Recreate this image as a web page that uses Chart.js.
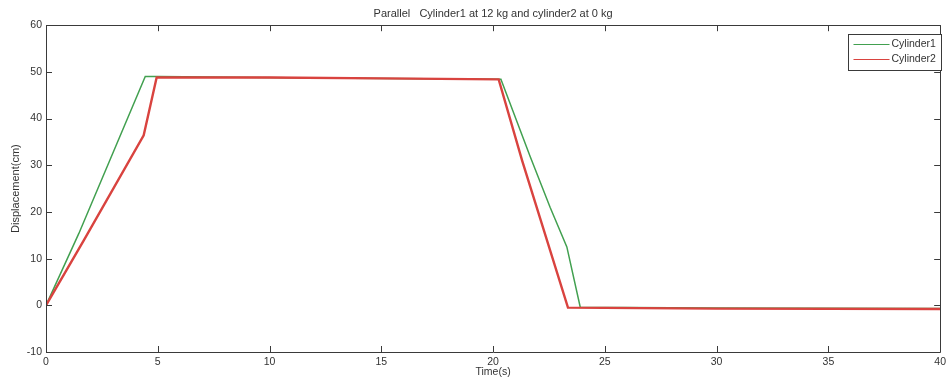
<!DOCTYPE html>
<html>
<head>
<meta charset="utf-8">
<script src="https://cdn.jsdelivr.net/npm/chart.js@4.4.1/dist/chart.umd.min.js"></script>
<style>
  html, body { margin: 0; padding: 0; background: #fff; }
</style>
</head>
<body>
<canvas id="chart" width="950" height="384"></canvas>
<script>
// values: time (s) and displacement (cm)
const cyl1Time = [0, 1.47, 4.44, 5.0, 12, 20.35, 21.65, 22.55, 23.3, 23.9, 30, 40];
const cyl1Disp = [0, 15.4, 49.0, 49.0, 48.7, 48.4, 32.0, 21.0, 12.5, -0.4, -0.6, -0.7];

const cyl2Time = [0, 1.69, 4.37, 4.95, 10, 15, 20.25, 21.3, 23.35, 30, 40];
const cyl2Disp = [0, 13.9, 36.4, 48.8, 48.8, 48.6, 48.4, 31.0, -0.5, -0.7, -0.8];

const seriesNames = ['Cylinder1', 'Cylinder2'];
const seriesColors = ['#42a050', '#d9433f'];

const xTicks = [0, 5, 10, 15, 20, 25, 30, 35, 40];
const yTicks = [-10, 0, 10, 20, 30, 40, 50, 60];

const chartTitle = 'Parallel   Cylinder1 at 12 kg and cylinder2 at 0 kg';

const axisColor = '#3a3a3a';
const textColor = '#333';
const fontFamily = '"Liberation Sans", Arial, sans-serif';

function toPoints(times, values) {
  return times.map(function(t, i) { return { x: t, y: values[i] }; });
}

// box round the plot, inward ticks on all four sides, and the legend box
const matlabAxes = {
  id: 'matlabAxes',
  afterDraw(chart) {
    const ctx = chart.ctx;
    const area = chart.chartArea;
    const xs = chart.scales.x;
    const ys = chart.scales.y;
    const tl = 6;
    ctx.save();
    ctx.strokeStyle = axisColor;
    ctx.lineWidth = 1;
    ctx.beginPath();
    ctx.rect(Math.round(area.left) + 0.5, Math.round(area.top) + 0.5,
             Math.round(area.right - area.left), Math.round(area.bottom - area.top));
    ctx.stroke();

    ctx.beginPath();
    xTicks.forEach(function(v) {
      const px = Math.round(xs.getPixelForValue(v)) + 0.5;
      ctx.moveTo(px, area.bottom); ctx.lineTo(px, area.bottom - tl);
      ctx.moveTo(px, area.top); ctx.lineTo(px, area.top + tl);
    });
    yTicks.forEach(function(v) {
      const py = Math.round(ys.getPixelForValue(v)) + 0.5;
      ctx.moveTo(area.left, py); ctx.lineTo(area.left + tl, py);
      ctx.moveTo(area.right, py); ctx.lineTo(area.right - tl, py);
    });
    ctx.stroke();

    // legend
    const bx = 848.5, by = 34.5, bw = 93, bh = 36;
    ctx.fillStyle = '#fff';
    ctx.fillRect(bx, by, bw, bh);
    ctx.strokeStyle = axisColor;
    ctx.strokeRect(bx, by, bw, bh);
    ctx.font = '10.5px ' + fontFamily;
    ctx.textBaseline = 'middle';
    ctx.textAlign = 'left';
    chart.data.datasets.forEach(function(ds, i) {
      const ly = by + 10 + i * 15;
      ctx.strokeStyle = ds.borderColor;
      ctx.lineWidth = 1.2;
      ctx.beginPath();
      ctx.moveTo(bx + 5, ly); ctx.lineTo(bx + 41, ly);
      ctx.stroke();
      ctx.fillStyle = textColor;
      ctx.fillText(ds.label, bx + 43, ly);
    });
    ctx.restore();
  }
};

const ctx = document.getElementById('chart');
new Chart(ctx, {
  type: 'line',
  plugins: [matlabAxes],
  data: {
    datasets: [{
      label: seriesNames[0],
      data: toPoints(cyl1Time, cyl1Disp),
      borderColor: seriesColors[0],
      borderWidth: 1.5,
      pointRadius: 0,
      tension: 0,
      order: 2
    }, {
      label: seriesNames[1],
      data: toPoints(cyl2Time, cyl2Disp),
      borderColor: seriesColors[1],
      borderWidth: 2.4,
      pointRadius: 0,
      tension: 0,
      order: 1
    }]
  },
  options: {
    responsive: false,
    animation: false,
    layout: { padding: { left: 0, right: 6, top: 0, bottom: 0 } },
    plugins: {
      legend: { display: false },
      tooltip: { enabled: false },
      title: {
        display: true,
        fullSize: false,
        text: chartTitle,
        color: textColor,
        font: { family: fontFamily, size: 11, weight: 'normal' },
        padding: { top: 7, bottom: 5 }
      }
    },
    scales: {
      x: {
        type: 'linear',
        min: 0,
        max: 40,
        afterBuildTicks: function(scale) {
          scale.ticks = xTicks.map(function(v) { return { value: v }; });
        },
        afterFit: function(scale) { scale.height = 32; },
        grid: { display: false, drawTicks: false },
        border: { display: false },
        ticks: {
          color: textColor,
          font: { family: fontFamily, size: 10.5 },
          padding: 4,
          maxRotation: 0
        },
        title: {
          display: true,
          text: 'Time(s)',
          color: textColor,
          font: { family: fontFamily, size: 10.5 },
          padding: { top: 0, bottom: 6 }
        }
      },
      y: {
        type: 'linear',
        min: -10,
        max: 60,
        afterBuildTicks: function(scale) {
          scale.ticks = yTicks.map(function(v) { return { value: v }; });
        },
        afterFit: function(scale) { scale.width = 46; },
        grid: { display: false, drawTicks: false },
        border: { display: false },
        ticks: {
          color: textColor,
          font: { family: fontFamily, size: 10.5 },
          padding: 4
        },
        title: {
          display: true,
          text: 'Displacement(cm)',
          color: textColor,
          font: { family: fontFamily, size: 11 },
          padding: { top: 9, bottom: 0 }
        }
      }
    }
  }
});
</script>
</body>
</html>
